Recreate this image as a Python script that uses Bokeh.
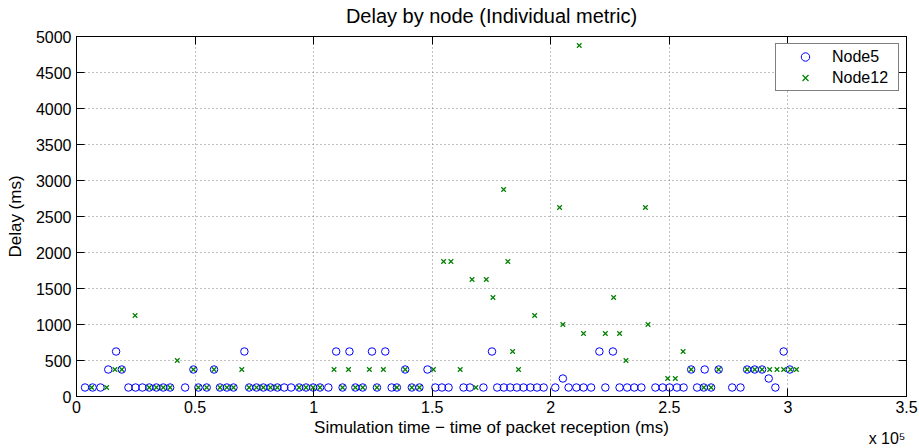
from bokeh.plotting import figure
from bokeh.models import (Range1d, LinearAxis, FixedTicker, Legend, LegendItem, Title)
from bokeh.embed import file_html
from bokeh.resources import INLINE

# ---- data (simulation time in ms, delay in ms) ----
# Node5 grouped by delay level
node5_t_125 = [3600, 6800, 10100, 21900, 24900, 27800, 30700, 33700, 36600, 39500, 45800,
               51400, 54900, 60500, 63400, 66200, 72800, 75900, 78800, 81800, 84700, 87600,
               90500, 93900, 96800, 99800, 102700, 106200, 112200, 117600, 120700, 126700,
               132900, 135100, 141400, 144600, 151300, 154100, 156900, 163200, 165900,
               171600, 177400, 180200, 182900, 185700, 188500, 191400, 194200, 197000,
               201900, 207500, 210800, 213800, 217000, 223000, 229000, 232200, 235200,
               238200, 244100, 247200, 250100, 253200, 256000, 261700, 264500, 267600,
               276500, 280000, 294700]
node5_t_250 = [205100, 291900]
node5_t_375 = [13400, 19100, 49300, 58000, 138600, 148000, 259200, 264900, 270800,
               282800, 286000, 289100, 300800]
node5_t_625 = [16700, 70800, 109500, 115100, 124600, 130200, 175200, 220500, 226200, 298200]

# Node12 as parallel lists
node12_time = [6400, 12700, 30700, 33700, 36600, 39500, 51400, 54900, 60500, 63400, 66200,
               72800, 75900, 78800, 81800, 84700, 93900, 96800, 99800, 102700, 112200,
               117600, 120700, 126700, 135100, 141400, 144600, 168400, 264500, 267600,
               249300, 252500,
               16200, 19100, 49300, 58000, 69700, 108600, 114700, 123500, 129400, 138600,
               150500, 161800, 186400, 259200, 270800, 282800, 286000, 289100, 292300,
               295400, 298200, 301100, 303600,
               42500, 231700,
               183900, 255800,
               213800, 223000, 229000,
               205100, 241000,
               24700, 193200,
               175600, 226500,
               166800, 172800,
               154800, 157900, 181900,
               203700, 239900,
               180100,
               212000]
node12_delay = [125] * 30 + [250] * 2 + [375] * 23 + [500] * 2 + [625] * 2 + [875] * 3 + \
               [1000] * 2 + [1125] * 2 + [1375] * 2 + [1625] * 2 + [1875] * 3 + \
               [2625] * 2 + [2875] + [4875]

node5_time = node5_t_125 + node5_t_250 + node5_t_375 + node5_t_625
node5_delay = [125] * len(node5_t_125) + [250] * len(node5_t_250) + \
              [375] * len(node5_t_375) + [625] * len(node5_t_625)

x_ticks = [0, 50000, 100000, 150000, 200000, 250000, 300000, 350000]
x_tick_labels = ["0", "0.5", "1", "1.5", "2", "2.5", "3", "3.5"]
y_ticks = list(range(0, 5001, 500))

chart_title = "Delay by node (Individual metric)"

FONT = "Liberation Sans"

p = figure(width=919, height=448, output_backend="svg", toolbar_location=None,
           x_range=Range1d(0, 350000), y_range=Range1d(0, 5000),
           min_border_left=76, min_border_right=13, min_border_top=36, min_border_bottom=52)
p.background_fill_color = "white"
p.border_fill_color = "white"
p.outline_line_color = "black"
p.outline_line_width = 1

r5 = p.scatter(node5_time, node5_delay, marker="circle", size=7.5, fill_color=None,
               line_color="#0000FF", line_width=1)
r12 = p.scatter(node12_time, node12_delay, marker="x", size=6.5, line_color="#008000",
                line_width=1.2)

# axes
for ax in (p.xaxis[0], p.yaxis[0]):
    ax.major_tick_in = 8
    ax.major_tick_out = 0
    ax.minor_tick_line_color = None
    ax.major_label_text_font = FONT
    ax.major_label_text_font_size = "16px"
    ax.major_label_text_color = "black"
    ax.axis_label_text_font = FONT
    ax.axis_label_text_font_size = "17px"
    ax.axis_label_text_font_style = "normal"
    ax.axis_label_text_color = "black"
    ax.axis_line_color = "black"
    ax.major_tick_line_color = "black"

p.xaxis[0].ticker = FixedTicker(ticks=x_ticks)
p.xaxis[0].major_label_overrides = {t: l for t, l in zip(x_ticks, x_tick_labels)}
p.xaxis[0].axis_label = "Simulation time \u2212 time of packet reception (ms)"
p.xaxis[0].major_label_standoff = 4
p.xaxis[0].axis_label_standoff = 2

p.yaxis[0].ticker = FixedTicker(ticks=y_ticks)
p.yaxis[0].axis_label = "Delay (ms)"
p.yaxis[0].major_label_standoff = 5
p.yaxis[0].axis_label_standoff = 8

# top axis: inward ticks only, and it carries the chart title as its label
top_ax = LinearAxis(ticker=FixedTicker(ticks=x_ticks), major_tick_in=8, major_tick_out=0,
                    minor_tick_line_color=None, major_label_text_font_size="1px",
                    major_label_text_color=None, major_label_standoff=0,
                    axis_label=chart_title, axis_label_standoff=10,
                    axis_label_text_font=FONT, axis_label_text_font_size="20px",
                    axis_label_text_font_style="normal", axis_label_text_color="black")
right_ax = LinearAxis(ticker=FixedTicker(ticks=y_ticks), major_tick_in=8, major_tick_out=0,
                      minor_tick_line_color=None, major_label_text_font_size="1px",
                      major_label_text_color=None, major_label_standoff=0)
p.add_layout(top_ax, "above")
p.add_layout(right_ax, "right")

# exponent note under the x axis, right aligned
exp_note = Title(text="x 10\u2075", align="right", vertical_align="top", offset=1,
                 standoff=-19, text_font=FONT, text_font_size="16px",
                 text_font_style="normal", text_color="black")
p.add_layout(exp_note, "below")

p.grid.grid_line_color = "#808080"
p.grid.grid_line_dash = "1 3"
p.grid.grid_line_width = 1
p.xgrid.ticker = FixedTicker(ticks=x_ticks)
p.ygrid.ticker = FixedTicker(ticks=y_ticks)

legend = Legend(items=[LegendItem(label="Node5", renderers=[r5]),
                       LegendItem(label="Node12", renderers=[r12])],
                location="top_right")
legend.margin = 7
legend.padding = 2
legend.spacing = 0
legend.glyph_width = 54
legend.glyph_height = 21
legend.label_height = 21
legend.label_width = 64
legend.label_standoff = 0
legend.label_text_font = FONT
legend.label_text_font_size = "16px"
legend.label_text_color = "black"
legend.border_line_color = "black"
legend.border_line_width = 1.5
legend.background_fill_color = "white"
legend.background_fill_alpha = 1
p.add_layout(legend)

open("out.html", "w").write(file_html(p, INLINE))
